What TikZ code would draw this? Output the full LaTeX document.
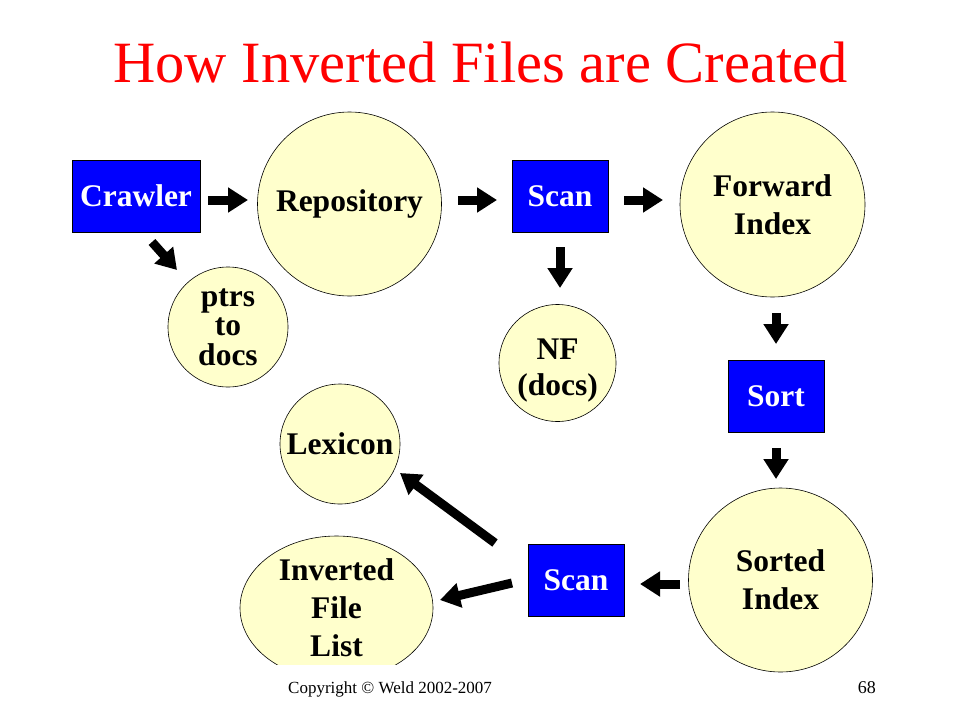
\documentclass[tikz,border=0pt]{standalone}
\usepackage{fontspec}
\setmainfont{Liberation Serif}
\usetikzlibrary{arrows.meta,shapes.geometric}
\definecolor{boxblue}{RGB}{0,0,255}
\definecolor{circfill}{RGB}{255,255,204}
\definecolor{titlered}{RGB}{255,0,0}
\begin{document}
\begin{tikzpicture}[x=1pt,y=-1pt,
  boxnode/.style={draw=black,line width=0.8pt,fill=boxblue,text=white,
    font=\fontsize{31.5}{36}\selectfont\bfseries,minimum height=72pt,minimum width=96pt,inner sep=0pt},
  circnode/.style={circle,draw=black,line width=0.6pt,fill=circfill,
    font=\fontsize{31.5}{38}\selectfont\bfseries,align=center,inner sep=0pt},
  blockarrow/.style={line width=9pt,-{Triangle[length=20pt,width=24pt]}}]
\useasboundingbox[fill=white] (0,0) rectangle (960,720);
% title
\node[anchor=base,text=titlered,font=\fontsize{58.5}{62}\selectfont] (title) at (480.5,82) {How Inverted Files are Created};
% nodes
\node[boxnode,minimum width=128pt] (crawler) at (136,196) {Crawler};
\node[circnode,minimum size=184pt] (repo) at (349.5,204) {Repository};
\node[boxnode] (scan1) at (560,196) {Scan};
\node[circnode,minimum size=185pt] (fwd) at (772.5,204.5) {Forward\\Index};
\node[circnode,minimum size=120pt,font=\fontsize{31.5}{29.5}\selectfont\bfseries] (ptrs) at (228,327) {ptrs\\to\\docs};
\node[circnode,minimum size=117pt,font=\fontsize{31.5}{36}\selectfont\bfseries] (nf) at (557.5,363) {\rule{0pt}{35pt}NF\\(docs)};
\node[boxnode] (sort) at (776,396) {Sort};
\node[circnode,minimum size=120pt] (lex) at (340,444) {Lexicon};
\node[boxnode] (scan2) at (576,580) {Scan};
\node[circnode,minimum size=184pt] (sorted) at (780.5,580) {Sorted\\Index};
\begin{scope}
  \clip (0,0) rectangle (960,664);
  \node[ellipse,draw=black,line width=0.6pt,fill=circfill,minimum width=193pt,minimum height=144pt,
    inner sep=0pt,align=center,font=\fontsize{31.5}{38}\selectfont\bfseries] (inv) at (336.5,608) {Inverted\\File\\List};
\end{scope}
% arrow end points
\coordinate (a1s) at (208,200); \coordinate (a1e) at (248,200);
\coordinate (a2s) at (152,242); \coordinate (a2e) at (177,270);
\coordinate (a3s) at (458,200); \coordinate (a3e) at (497,200);
\coordinate (a4s) at (624,200); \coordinate (a4e) at (663,200);
\coordinate (a5s) at (560,247); \coordinate (a5e) at (560,288);
\coordinate (a6s) at (776,313); \coordinate (a6e) at (776,344);
\coordinate (a7s) at (776,448); \coordinate (a7e) at (776,479);
\coordinate (a8s) at (680,584); \coordinate (a8e) at (640,584);
\coordinate (a9s) at (512,583); \coordinate (a9e) at (440,600);
\coordinate (a10s) at (495,543); \coordinate (a10e) at (400,473);
\foreach \i in {1,...,10} {\draw[blockarrow] (a\i s) -- (a\i e);}
% footer
\node[anchor=base west,inner sep=0pt,font=\fontsize{17}{20}\selectfont] (copy) at (288,693) {Copyright © Weld 2002-2007};
\node[anchor=base east,inner sep=0pt,font=\fontsize{18}{20}\selectfont] (pnum) at (876,693) {68};
\end{tikzpicture}
\end{document}
